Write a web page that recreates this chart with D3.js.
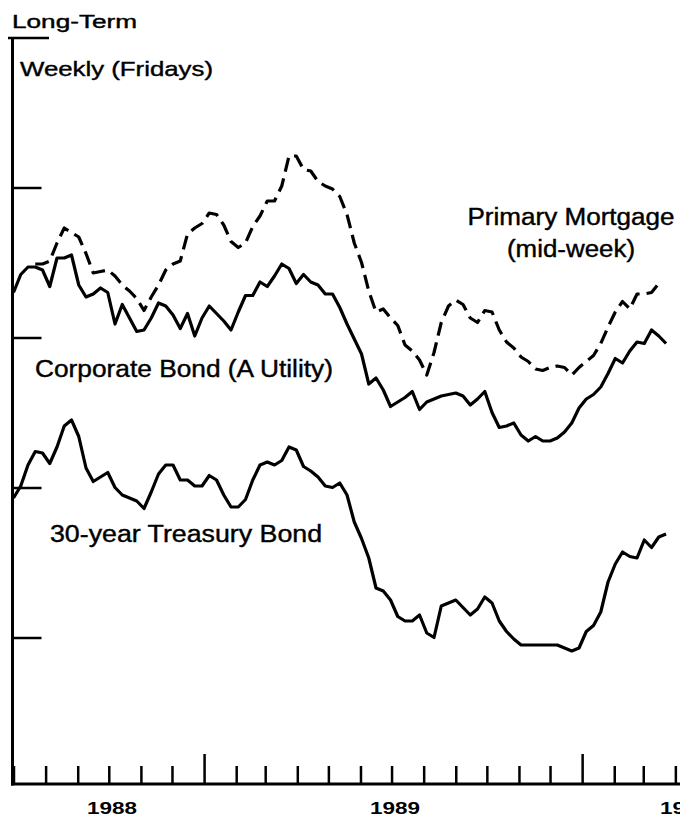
<!DOCTYPE html>
<html>
<head>
<meta charset="utf-8">
<script src="https://cdn.jsdelivr.net/npm/d3@7"></script>
<style>
  html, body { margin: 0; padding: 0; background: #fff; }
  svg { display: block; }
  text { font-family: "Liberation Sans", Arial, Helvetica, sans-serif; fill: #000; }
</style>
</head>
<body>
<div id="chart"></div>
<script>
// Long-term interest rates, weekly (Fridays), Jul 1988 - Mar 1990, percent

// Weekly dates: Fridays from 1 Jul 1988 to 23 Mar 1990
const weeks = d3.timeFriday.range(new Date(1988, 6, 1), new Date(1990, 2, 24));

// mortgage line only becomes visible from the 4th week
const mortgage = [
  null, null, null, 10.49, 10.49, 10.51, 10.63, 10.73, 10.70, 10.67,
  10.56, 10.43, 10.44, 10.45, 10.41, 10.35, 10.31, 10.26, 10.18, 10.27,
  10.35, 10.45, 10.49, 10.51, 10.69, 10.73, 10.76, 10.83, 10.82, 10.75,
  10.64, 10.60, 10.63, 10.74, 10.81, 10.91, 10.91, 11.01, 11.21, 11.21,
  11.12, 11.11, 11.04, 11.01, 10.99, 10.94, 10.82, 10.63, 10.50, 10.31,
  10.17, 10.19, 10.13, 10.08, 9.95, 9.91, 9.85, 9.75, 9.90, 10.10,
  10.21, 10.25, 10.22, 10.13, 10.10, 10.18, 10.17, 10.05, 9.97, 9.93,
  9.87, 9.84, 9.79, 9.78, 9.80, 9.81, 9.80, 9.75, 9.80, 9.84,
  9.88, 9.96, 10.07, 10.17, 10.24, 10.19, 10.29, 10.29, 10.30, 10.36
];

const corporate = [
  10.30, 10.42, 10.47, 10.47, 10.45, 10.34, 10.53, 10.53, 10.55, 10.35,
  10.27, 10.29, 10.33, 10.30, 10.09, 10.22, 10.13, 10.04, 10.05, 10.13,
  10.23, 10.21, 10.15, 10.06, 10.16, 10.01, 10.13, 10.21, 10.16, 10.11,
  10.05, 10.17, 10.28, 10.28, 10.37, 10.34, 10.41, 10.49, 10.46, 10.36,
  10.42, 10.37, 10.35, 10.29, 10.29, 10.20, 10.09, 9.99, 9.89, 9.69,
  9.73, 9.65, 9.54, 9.57, 9.60, 9.64, 9.52, 9.57, 9.59, 9.61,
  9.62, 9.63, 9.61, 9.55, 9.59, 9.64, 9.50, 9.40, 9.41, 9.43,
  9.35, 9.31, 9.34, 9.31, 9.31, 9.33, 9.37, 9.43, 9.53, 9.59,
  9.62, 9.67, 9.76, 9.86, 9.83, 9.91, 9.97, 9.96, 10.05, 10.01,
  9.96
];

const treasury = [
  8.93, 9.01, 9.15, 9.24, 9.23, 9.16, 9.27, 9.41, 9.45, 9.34,
  9.13, 9.04, 9.07, 9.10, 9.00, 8.95, 8.93, 8.91, 8.86, 8.97,
  9.09, 9.15, 9.15, 9.05, 9.05, 9.01, 9.01, 9.08, 9.05, 8.95,
  8.87, 8.87, 8.92, 9.05, 9.15, 9.17, 9.15, 9.18, 9.27, 9.25,
  9.14, 9.11, 9.07, 9.01, 9.00, 9.03, 8.95, 8.77, 8.66, 8.53,
  8.33, 8.31, 8.25, 8.14, 8.11, 8.11, 8.15, 8.03, 8.00, 8.21,
  8.23, 8.25, 8.20, 8.15, 8.19, 8.27, 8.23, 8.11, 8.04, 7.99,
  7.95, 7.95, 7.95, 7.95, 7.95, 7.95, 7.93, 7.91, 7.93, 8.04,
  8.08, 8.17, 8.37, 8.49, 8.57, 8.54, 8.53, 8.65, 8.60, 8.67,
  8.69
];

const yTicks = [8, 9, 10, 11];
const years = ["1988", "1989", "1990"];

const width = 680, height = 819;

const svg = d3.select('#chart').append('svg')
    .attr('width', width).attr('height', height);

const x = d3.scaleTime()
    .domain([new Date(1988, 6, 1), new Date(1990, 3, 5)])
    .range([13.5, 679.5]);
const y = d3.scaleLinear().domain([7, 12]).range([787.5, 37.5]);

const baseY = 784;
const axisX = 12.5;

// left axis + top corner
svg.append('line').attr('x1', axisX).attr('x2', axisX).attr('y1', 37).attr('y2', baseY + 1.5)
    .attr('stroke', '#000').attr('stroke-width', 3);
svg.append('line').attr('x1', 8).attr('x2', 49).attr('y1', 38).attr('y2', 38)
    .attr('stroke', '#000').attr('stroke-width', 2.5);

// y ticks (no labels)
svg.append('g').attr('transform', `translate(${axisX},0)`)
    .call(d3.axisRight(y).tickValues(yTicks).tickSize(29).tickFormat(''))
    .call(g => g.select('.domain').remove())
    .call(g => g.selectAll('.tick line').attr('stroke', '#000').attr('stroke-width', 2.5));

// bottom axis, monthly ticks pointing up, Januaries taller
svg.append('g').attr('transform', `translate(0,${baseY})`)
    .call(d3.axisTop(x).ticks(d3.timeMonth.every(1)).tickSize(18).tickSizeOuter(0).tickFormat(''))
    .call(g => g.select('.domain').remove())
    .call(g => g.selectAll('.tick line')
        .attr('stroke', '#000').attr('stroke-width', 2.5)
        .attr('y2', d => d.getMonth() === 0 ? -30 : -18));
svg.append('line').attr('x1', axisX - 1.5).attr('x2', width).attr('y1', baseY).attr('y2', baseY)
    .attr('stroke', '#000').attr('stroke-width', 3);

// year labels (the last one runs off the right edge, as in the original)
const yearX = [112, 395, 685];
svg.selectAll('.year').data(years).enter().append('text')
    .attr('class', 'year')
    .attr('x', (d, i) => yearX[i]).attr('y', 814)
    .attr('text-anchor', 'middle')
    .attr('font-size', 17).attr('font-weight', 'bold')
    .attr('textLength', 50).attr('lengthAdjust', 'spacingAndGlyphs')
    .text(d => d);

// series
const line = d3.line()
    .defined(d => d != null)
    .x((d, i) => x(weeks[i]))
    .y(d => y(d));

svg.append('path').datum(mortgage)
    .attr('d', line).attr('fill', 'none').attr('stroke', '#000')
    .attr('stroke-width', 3.2).attr('stroke-dasharray', '14,7')
    .attr('stroke-linejoin', 'round');
svg.append('path').datum(corporate)
    .attr('d', line).attr('fill', 'none').attr('stroke', '#000')
    .attr('stroke-width', 3.2).attr('stroke-linejoin', 'round');
svg.append('path').datum(treasury)
    .attr('d', line).attr('fill', 'none').attr('stroke', '#000')
    .attr('stroke-width', 3.2).attr('stroke-linejoin', 'round');

// texts
function label(t, xx, yy, size, len, anchor) {
    svg.append('text').attr('x', xx).attr('y', yy)
        .attr('font-size', size)
        .attr('text-anchor', anchor || 'start')
        .attr('stroke', '#000').attr('stroke-width', 0.4)
        .attr('textLength', len).attr('lengthAdjust', 'spacingAndGlyphs')
        .text(t);
}
label('Long-Term', 12, 28, 18, 125);
label('Weekly (Fridays)', 20, 76, 21, 193);
label('Primary Mortgage', 571, 225, 23, 207, 'middle');
label('(mid-week)', 571, 257, 23, 128, 'middle');
label('Corporate Bond (A Utility)', 35, 377, 23, 298);
label('30-year Treasury Bond', 50, 542, 23, 272);
</script>
</body>
</html>
